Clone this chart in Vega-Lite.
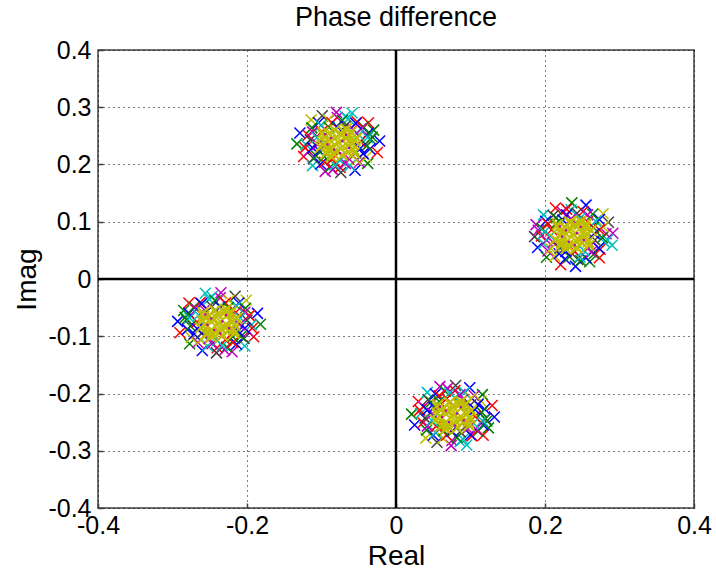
{
"$schema": "https://vega.github.io/schema/vega-lite/v6.json",
"width": 596, "height": 458,
"autosize": {"type": "none"},
"padding": {"left": 98, "top": 50, "right": 22, "bottom": 67},
"background": "white",
"config": {"view": {"stroke": "#404040", "strokeWidth": 1.5}, "font": "Liberation Sans"},
"title": {"text": "Phase difference", "fontSize": 27, "fontWeight": "normal", "color": "black", "offset": 6, "font": "Liberation Sans"},
"datasets": {
"ring": [
{"x":-0.022,"y":0.241,"c":"b"},{"x":-0.030,"y":0.260,"c":"g"},{"x":-0.037,"y":0.273,"c":"r"},{"x":-0.059,"y":0.290,"c":"c"},{"x":-0.080,"y":0.291,"c":"m"},{"x":-0.099,"y":0.285,"c":"k"},{"x":-0.114,"y":0.278,"c":"y"},{"x":-0.129,"y":0.255,"c":"b"},{"x":-0.133,"y":0.236,"c":"g"},{"x":-0.124,"y":0.214,"c":"r"},{"x":-0.112,"y":0.198,"c":"c"},{"x":-0.095,"y":0.188,"c":"m"},{"x":-0.074,"y":0.186,"c":"k"},{"x":-0.055,"y":0.190,"c":"b"},{"x":-0.038,"y":0.202,"c":"g"},{"x":-0.025,"y":0.221,"c":"r"},
{"x":-0.034,"y":0.244,"c":"k"},{"x":-0.037,"y":0.255,"c":"b"},{"x":-0.044,"y":0.266,"c":"g"},{"x":-0.052,"y":0.274,"c":"r"},{"x":-0.064,"y":0.280,"c":"c"},{"x":-0.079,"y":0.282,"c":"m"},{"x":-0.091,"y":0.278,"c":"y"},{"x":-0.104,"y":0.273,"c":"b"},{"x":-0.113,"y":0.264,"c":"g"},{"x":-0.118,"y":0.251,"c":"r"},{"x":-0.121,"y":0.235,"c":"c"},{"x":-0.117,"y":0.223,"c":"m"},{"x":-0.111,"y":0.211,"c":"k"},{"x":-0.101,"y":0.201,"c":"b"},{"x":-0.088,"y":0.196,"c":"g"},{"x":-0.075,"y":0.195,"c":"r"},{"x":-0.062,"y":0.198,"c":"c"},{"x":-0.049,"y":0.204,"c":"m"},{"x":-0.040,"y":0.213,"c":"y"},{"x":-0.035,"y":0.227,"c":"b"},{"x":-0.032,"y":0.248,"c":"g"},{"x":-0.122,"y":0.229,"c":"r"},{"x":-0.068,"y":0.284,"c":"c"},{"x":-0.085,"y":0.191,"c":"m"},
{"x":-0.038,"y":0.247,"c":"c"},{"x":-0.047,"y":0.262,"c":"m"},{"x":-0.054,"y":0.272,"c":"b"},{"x":-0.072,"y":0.277,"c":"g"},{"x":-0.086,"y":0.273,"c":"r"},{"x":-0.101,"y":0.268,"c":"c"},{"x":-0.112,"y":0.257,"c":"m"},{"x":-0.115,"y":0.243,"c":"k"},{"x":-0.112,"y":0.229,"c":"b"},{"x":-0.107,"y":0.215,"c":"g"},{"x":-0.096,"y":0.204,"c":"r"},{"x":-0.082,"y":0.199,"c":"c"},{"x":-0.068,"y":0.202,"c":"m"},{"x":-0.053,"y":0.208,"c":"y"},{"x":-0.044,"y":0.219,"c":"b"},{"x":-0.039,"y":0.233,"c":"g"},
{"x":-0.048,"y":0.240,"c":"r"},{"x":-0.050,"y":0.252,"c":"c"},{"x":-0.058,"y":0.261,"c":"m"},{"x":-0.068,"y":0.267,"c":"k"},{"x":-0.079,"y":0.266,"c":"b"},{"x":-0.090,"y":0.265,"c":"g"},{"x":-0.100,"y":0.257,"c":"r"},{"x":-0.106,"y":0.247,"c":"c"},{"x":-0.105,"y":0.235,"c":"m"},{"x":-0.103,"y":0.224,"c":"b"},{"x":-0.096,"y":0.214,"c":"g"},{"x":-0.086,"y":0.209,"c":"r"},{"x":-0.075,"y":0.207,"c":"c"},{"x":-0.064,"y":0.211,"c":"m"},{"x":-0.054,"y":0.220,"c":"k"},{"x":-0.048,"y":0.228,"c":"b"},

{"x":0.241,"y":0.022,"c":"b"},{"x":0.260,"y":0.030,"c":"g"},{"x":0.273,"y":0.037,"c":"r"},{"x":0.290,"y":0.059,"c":"c"},{"x":0.291,"y":0.080,"c":"m"},{"x":0.285,"y":0.099,"c":"k"},{"x":0.278,"y":0.114,"c":"y"},{"x":0.255,"y":0.129,"c":"b"},{"x":0.236,"y":0.133,"c":"g"},{"x":0.214,"y":0.124,"c":"r"},{"x":0.198,"y":0.112,"c":"c"},{"x":0.188,"y":0.095,"c":"m"},{"x":0.186,"y":0.074,"c":"k"},{"x":0.190,"y":0.055,"c":"b"},{"x":0.202,"y":0.038,"c":"g"},{"x":0.221,"y":0.025,"c":"r"},
{"x":0.244,"y":0.034,"c":"k"},{"x":0.255,"y":0.037,"c":"b"},{"x":0.266,"y":0.044,"c":"g"},{"x":0.274,"y":0.052,"c":"r"},{"x":0.280,"y":0.064,"c":"c"},{"x":0.282,"y":0.079,"c":"m"},{"x":0.278,"y":0.091,"c":"y"},{"x":0.273,"y":0.104,"c":"b"},{"x":0.264,"y":0.113,"c":"g"},{"x":0.251,"y":0.118,"c":"r"},{"x":0.235,"y":0.121,"c":"c"},{"x":0.223,"y":0.117,"c":"m"},{"x":0.211,"y":0.111,"c":"k"},{"x":0.201,"y":0.101,"c":"b"},{"x":0.196,"y":0.088,"c":"g"},{"x":0.195,"y":0.075,"c":"r"},{"x":0.198,"y":0.062,"c":"c"},{"x":0.204,"y":0.049,"c":"m"},{"x":0.213,"y":0.040,"c":"y"},{"x":0.227,"y":0.035,"c":"b"},{"x":0.248,"y":0.032,"c":"g"},{"x":0.229,"y":0.122,"c":"r"},{"x":0.284,"y":0.068,"c":"c"},{"x":0.191,"y":0.085,"c":"m"},
{"x":0.247,"y":0.038,"c":"c"},{"x":0.262,"y":0.047,"c":"m"},{"x":0.272,"y":0.054,"c":"b"},{"x":0.277,"y":0.072,"c":"g"},{"x":0.273,"y":0.086,"c":"r"},{"x":0.268,"y":0.101,"c":"c"},{"x":0.257,"y":0.112,"c":"m"},{"x":0.243,"y":0.115,"c":"k"},{"x":0.229,"y":0.112,"c":"b"},{"x":0.215,"y":0.107,"c":"g"},{"x":0.204,"y":0.096,"c":"r"},{"x":0.199,"y":0.082,"c":"c"},{"x":0.202,"y":0.068,"c":"m"},{"x":0.208,"y":0.053,"c":"y"},{"x":0.219,"y":0.044,"c":"b"},{"x":0.233,"y":0.039,"c":"g"},
{"x":0.240,"y":0.048,"c":"r"},{"x":0.252,"y":0.050,"c":"c"},{"x":0.261,"y":0.058,"c":"m"},{"x":0.267,"y":0.068,"c":"k"},{"x":0.266,"y":0.079,"c":"b"},{"x":0.265,"y":0.090,"c":"g"},{"x":0.257,"y":0.100,"c":"r"},{"x":0.247,"y":0.106,"c":"c"},{"x":0.235,"y":0.105,"c":"m"},{"x":0.224,"y":0.103,"c":"b"},{"x":0.214,"y":0.096,"c":"g"},{"x":0.209,"y":0.086,"c":"r"},{"x":0.207,"y":0.075,"c":"c"},{"x":0.211,"y":0.064,"c":"m"},{"x":0.220,"y":0.054,"c":"k"},{"x":0.228,"y":0.048,"c":"b"},

{"x":-0.293,"y":-0.074,"c":"b"},{"x":-0.285,"y":-0.055,"c":"g"},{"x":-0.278,"y":-0.042,"c":"r"},{"x":-0.256,"y":-0.025,"c":"c"},{"x":-0.235,"y":-0.024,"c":"m"},{"x":-0.216,"y":-0.030,"c":"k"},{"x":-0.201,"y":-0.037,"c":"y"},{"x":-0.186,"y":-0.060,"c":"b"},{"x":-0.182,"y":-0.079,"c":"g"},{"x":-0.191,"y":-0.101,"c":"r"},{"x":-0.203,"y":-0.117,"c":"c"},{"x":-0.220,"y":-0.127,"c":"m"},{"x":-0.241,"y":-0.129,"c":"k"},{"x":-0.260,"y":-0.125,"c":"b"},{"x":-0.277,"y":-0.113,"c":"g"},{"x":-0.290,"y":-0.094,"c":"r"},
{"x":-0.281,"y":-0.071,"c":"k"},{"x":-0.278,"y":-0.060,"c":"b"},{"x":-0.271,"y":-0.049,"c":"g"},{"x":-0.263,"y":-0.041,"c":"r"},{"x":-0.251,"y":-0.035,"c":"c"},{"x":-0.236,"y":-0.033,"c":"m"},{"x":-0.224,"y":-0.037,"c":"y"},{"x":-0.211,"y":-0.042,"c":"b"},{"x":-0.202,"y":-0.051,"c":"g"},{"x":-0.197,"y":-0.064,"c":"r"},{"x":-0.194,"y":-0.080,"c":"c"},{"x":-0.198,"y":-0.092,"c":"m"},{"x":-0.204,"y":-0.104,"c":"k"},{"x":-0.214,"y":-0.114,"c":"b"},{"x":-0.227,"y":-0.119,"c":"g"},{"x":-0.240,"y":-0.120,"c":"r"},{"x":-0.253,"y":-0.117,"c":"c"},{"x":-0.266,"y":-0.111,"c":"m"},{"x":-0.275,"y":-0.102,"c":"y"},{"x":-0.280,"y":-0.088,"c":"b"},{"x":-0.283,"y":-0.067,"c":"g"},{"x":-0.193,"y":-0.086,"c":"r"},{"x":-0.247,"y":-0.031,"c":"c"},{"x":-0.230,"y":-0.124,"c":"m"},
{"x":-0.277,"y":-0.068,"c":"c"},{"x":-0.268,"y":-0.053,"c":"m"},{"x":-0.261,"y":-0.043,"c":"b"},{"x":-0.243,"y":-0.038,"c":"g"},{"x":-0.229,"y":-0.042,"c":"r"},{"x":-0.214,"y":-0.047,"c":"c"},{"x":-0.203,"y":-0.058,"c":"m"},{"x":-0.200,"y":-0.072,"c":"k"},{"x":-0.203,"y":-0.086,"c":"b"},{"x":-0.208,"y":-0.100,"c":"g"},{"x":-0.219,"y":-0.111,"c":"r"},{"x":-0.233,"y":-0.116,"c":"c"},{"x":-0.247,"y":-0.113,"c":"m"},{"x":-0.262,"y":-0.107,"c":"y"},{"x":-0.271,"y":-0.096,"c":"b"},{"x":-0.276,"y":-0.082,"c":"g"},
{"x":-0.267,"y":-0.075,"c":"r"},{"x":-0.265,"y":-0.063,"c":"c"},{"x":-0.257,"y":-0.054,"c":"m"},{"x":-0.247,"y":-0.048,"c":"k"},{"x":-0.236,"y":-0.049,"c":"b"},{"x":-0.225,"y":-0.050,"c":"g"},{"x":-0.215,"y":-0.058,"c":"r"},{"x":-0.209,"y":-0.068,"c":"c"},{"x":-0.210,"y":-0.080,"c":"m"},{"x":-0.212,"y":-0.091,"c":"b"},{"x":-0.219,"y":-0.101,"c":"g"},{"x":-0.229,"y":-0.106,"c":"r"},{"x":-0.240,"y":-0.108,"c":"c"},{"x":-0.251,"y":-0.104,"c":"m"},{"x":-0.261,"y":-0.095,"c":"k"},{"x":-0.267,"y":-0.087,"c":"b"},

{"x":0.132,"y":-0.241,"c":"b"},{"x":0.124,"y":-0.260,"c":"g"},{"x":0.117,"y":-0.273,"c":"r"},{"x":0.095,"y":-0.290,"c":"c"},{"x":0.074,"y":-0.291,"c":"m"},{"x":0.055,"y":-0.285,"c":"k"},{"x":0.040,"y":-0.278,"c":"y"},{"x":0.025,"y":-0.255,"c":"b"},{"x":0.021,"y":-0.236,"c":"g"},{"x":0.030,"y":-0.214,"c":"r"},{"x":0.042,"y":-0.198,"c":"c"},{"x":0.059,"y":-0.188,"c":"m"},{"x":0.080,"y":-0.186,"c":"k"},{"x":0.099,"y":-0.190,"c":"b"},{"x":0.116,"y":-0.202,"c":"g"},{"x":0.129,"y":-0.221,"c":"r"},
{"x":0.120,"y":-0.244,"c":"k"},{"x":0.117,"y":-0.255,"c":"b"},{"x":0.110,"y":-0.266,"c":"g"},{"x":0.102,"y":-0.274,"c":"r"},{"x":0.090,"y":-0.280,"c":"c"},{"x":0.075,"y":-0.282,"c":"m"},{"x":0.063,"y":-0.278,"c":"y"},{"x":0.050,"y":-0.273,"c":"b"},{"x":0.041,"y":-0.264,"c":"g"},{"x":0.036,"y":-0.251,"c":"r"},{"x":0.033,"y":-0.235,"c":"c"},{"x":0.037,"y":-0.223,"c":"m"},{"x":0.043,"y":-0.211,"c":"k"},{"x":0.053,"y":-0.201,"c":"b"},{"x":0.066,"y":-0.196,"c":"g"},{"x":0.079,"y":-0.195,"c":"r"},{"x":0.092,"y":-0.198,"c":"c"},{"x":0.105,"y":-0.204,"c":"m"},{"x":0.114,"y":-0.213,"c":"y"},{"x":0.119,"y":-0.227,"c":"b"},{"x":0.122,"y":-0.248,"c":"g"},{"x":0.032,"y":-0.229,"c":"r"},{"x":0.086,"y":-0.284,"c":"c"},{"x":0.069,"y":-0.191,"c":"m"},
{"x":0.116,"y":-0.247,"c":"c"},{"x":0.107,"y":-0.262,"c":"m"},{"x":0.100,"y":-0.272,"c":"b"},{"x":0.082,"y":-0.277,"c":"g"},{"x":0.068,"y":-0.273,"c":"r"},{"x":0.053,"y":-0.268,"c":"c"},{"x":0.042,"y":-0.257,"c":"m"},{"x":0.039,"y":-0.243,"c":"k"},{"x":0.042,"y":-0.229,"c":"b"},{"x":0.047,"y":-0.215,"c":"g"},{"x":0.058,"y":-0.204,"c":"r"},{"x":0.072,"y":-0.199,"c":"c"},{"x":0.086,"y":-0.202,"c":"m"},{"x":0.101,"y":-0.208,"c":"y"},{"x":0.110,"y":-0.219,"c":"b"},{"x":0.115,"y":-0.233,"c":"g"},
{"x":0.106,"y":-0.240,"c":"r"},{"x":0.104,"y":-0.252,"c":"c"},{"x":0.096,"y":-0.261,"c":"m"},{"x":0.086,"y":-0.267,"c":"k"},{"x":0.075,"y":-0.266,"c":"b"},{"x":0.064,"y":-0.265,"c":"g"},{"x":0.054,"y":-0.257,"c":"r"},{"x":0.048,"y":-0.247,"c":"c"},{"x":0.049,"y":-0.235,"c":"m"},{"x":0.051,"y":-0.224,"c":"b"},{"x":0.058,"y":-0.214,"c":"g"},{"x":0.068,"y":-0.209,"c":"r"},{"x":0.079,"y":-0.207,"c":"c"},{"x":0.090,"y":-0.211,"c":"m"},{"x":0.100,"y":-0.220,"c":"k"},{"x":0.106,"y":-0.228,"c":"b"}
],
"core": [
{"x":-0.077,"y":0.238,"c":"y"},{"x":-0.062,"y":0.243,"c":"y"},{"x":-0.092,"y":0.233,"c":"y"},{"x":-0.069,"y":0.256,"c":"y"},{"x":-0.085,"y":0.220,"c":"y"},{"x":-0.057,"y":0.226,"c":"y"},{"x":-0.097,"y":0.250,"c":"y"},{"x":-0.053,"y":0.246,"c":"y"},{"x":-0.101,"y":0.230,"c":"y"},{"x":-0.072,"y":0.216,"c":"y"},{"x":-0.082,"y":0.260,"c":"y"},{"x":-0.065,"y":0.233,"c":"y"},{"x":-0.089,"y":0.243,"c":"y"},{"x":-0.060,"y":0.257,"c":"y"},{"x":-0.094,"y":0.219,"c":"y"},{"x":-0.080,"y":0.248,"c":"y"},{"x":-0.074,"y":0.228,"c":"y"},{"x":-0.067,"y":0.262,"c":"y"},{"x":-0.087,"y":0.214,"c":"y"},{"x":-0.056,"y":0.220,"c":"y"},{"x":-0.098,"y":0.256,"c":"y"},
{"x":-0.068,"y":0.246,"c":"y"},{"x":-0.086,"y":0.230,"c":"y"},{"x":-0.059,"y":0.236,"c":"y"},{"x":-0.095,"y":0.240,"c":"y"},{"x":-0.075,"y":0.254,"c":"y"},{"x":-0.079,"y":0.222,"c":"y"},{"x":-0.063,"y":0.250,"c":"y"},{"x":-0.091,"y":0.226,"c":"y"},{"x":-0.064,"y":0.222,"c":"y"},{"x":-0.090,"y":0.254,"c":"y"},{"x":-0.055,"y":0.242,"c":"y"},{"x":-0.099,"y":0.234,"c":"y"},
{"x":0.238,"y":0.077,"c":"y"},{"x":0.253,"y":0.082,"c":"y"},{"x":0.223,"y":0.072,"c":"y"},{"x":0.246,"y":0.095,"c":"y"},{"x":0.230,"y":0.059,"c":"y"},{"x":0.258,"y":0.065,"c":"y"},{"x":0.218,"y":0.089,"c":"y"},{"x":0.262,"y":0.085,"c":"y"},{"x":0.214,"y":0.069,"c":"y"},{"x":0.243,"y":0.055,"c":"y"},{"x":0.233,"y":0.099,"c":"y"},{"x":0.250,"y":0.072,"c":"y"},{"x":0.226,"y":0.082,"c":"y"},{"x":0.255,"y":0.096,"c":"y"},{"x":0.221,"y":0.058,"c":"y"},{"x":0.235,"y":0.087,"c":"y"},{"x":0.241,"y":0.067,"c":"y"},{"x":0.248,"y":0.101,"c":"y"},{"x":0.228,"y":0.053,"c":"y"},{"x":0.259,"y":0.059,"c":"y"},{"x":0.217,"y":0.095,"c":"y"},
{"x":0.246,"y":0.068,"c":"y"},{"x":0.230,"y":0.086,"c":"y"},{"x":0.236,"y":0.059,"c":"y"},{"x":0.240,"y":0.095,"c":"y"},{"x":0.254,"y":0.075,"c":"y"},{"x":0.222,"y":0.079,"c":"y"},{"x":0.250,"y":0.063,"c":"y"},{"x":0.226,"y":0.091,"c":"y"},{"x":0.222,"y":0.064,"c":"y"},{"x":0.254,"y":0.090,"c":"y"},{"x":0.242,"y":0.055,"c":"y"},{"x":0.234,"y":0.099,"c":"y"},
{"x":-0.238,"y":-0.077,"c":"y"},{"x":-0.223,"y":-0.072,"c":"y"},{"x":-0.253,"y":-0.082,"c":"y"},{"x":-0.230,"y":-0.059,"c":"y"},{"x":-0.246,"y":-0.095,"c":"y"},{"x":-0.218,"y":-0.089,"c":"y"},{"x":-0.258,"y":-0.065,"c":"y"},{"x":-0.214,"y":-0.069,"c":"y"},{"x":-0.262,"y":-0.085,"c":"y"},{"x":-0.233,"y":-0.099,"c":"y"},{"x":-0.243,"y":-0.055,"c":"y"},{"x":-0.226,"y":-0.082,"c":"y"},{"x":-0.250,"y":-0.072,"c":"y"},{"x":-0.221,"y":-0.058,"c":"y"},{"x":-0.255,"y":-0.096,"c":"y"},{"x":-0.241,"y":-0.067,"c":"y"},{"x":-0.235,"y":-0.087,"c":"y"},{"x":-0.228,"y":-0.053,"c":"y"},{"x":-0.248,"y":-0.101,"c":"y"},{"x":-0.217,"y":-0.095,"c":"y"},{"x":-0.259,"y":-0.059,"c":"y"},
{"x":-0.247,"y":-0.069,"c":"y"},{"x":-0.229,"y":-0.085,"c":"y"},{"x":-0.256,"y":-0.079,"c":"y"},{"x":-0.220,"y":-0.075,"c":"y"},{"x":-0.240,"y":-0.061,"c":"y"},{"x":-0.236,"y":-0.093,"c":"y"},{"x":-0.252,"y":-0.065,"c":"y"},{"x":-0.224,"y":-0.089,"c":"y"},{"x":-0.251,"y":-0.093,"c":"y"},{"x":-0.225,"y":-0.061,"c":"y"},{"x":-0.260,"y":-0.073,"c":"y"},{"x":-0.216,"y":-0.081,"c":"y"},
{"x":0.077,"y":-0.238,"c":"y"},{"x":0.092,"y":-0.233,"c":"y"},{"x":0.062,"y":-0.243,"c":"y"},{"x":0.085,"y":-0.220,"c":"y"},{"x":0.069,"y":-0.256,"c":"y"},{"x":0.097,"y":-0.250,"c":"y"},{"x":0.057,"y":-0.226,"c":"y"},{"x":0.101,"y":-0.230,"c":"y"},{"x":0.053,"y":-0.246,"c":"y"},{"x":0.082,"y":-0.260,"c":"y"},{"x":0.072,"y":-0.216,"c":"y"},{"x":0.089,"y":-0.243,"c":"y"},{"x":0.065,"y":-0.233,"c":"y"},{"x":0.094,"y":-0.219,"c":"y"},{"x":0.060,"y":-0.257,"c":"y"},{"x":0.074,"y":-0.228,"c":"y"},{"x":0.080,"y":-0.248,"c":"y"},{"x":0.087,"y":-0.214,"c":"y"},{"x":0.067,"y":-0.262,"c":"y"},{"x":0.098,"y":-0.256,"c":"y"},{"x":0.056,"y":-0.220,"c":"y"},
{"x":0.086,"y":-0.246,"c":"y"},{"x":0.068,"y":-0.230,"c":"y"},{"x":0.095,"y":-0.236,"c":"y"},{"x":0.059,"y":-0.240,"c":"y"},{"x":0.079,"y":-0.254,"c":"y"},{"x":0.075,"y":-0.222,"c":"y"},{"x":0.091,"y":-0.250,"c":"y"},{"x":0.063,"y":-0.226,"c":"y"},{"x":0.090,"y":-0.222,"c":"y"},{"x":0.064,"y":-0.254,"c":"y"},{"x":0.099,"y":-0.242,"c":"y"},{"x":0.055,"y":-0.234,"c":"y"}
],
"dots": [
{"x":-0.072,"y":0.241,"c":"m"},{"x":-0.087,"y":0.246,"c":"m"},{"x":-0.063,"y":0.229,"c":"m"},{"x":-0.083,"y":0.226,"c":"m"},{"x":-0.067,"y":0.252,"c":"m"},{"x":-0.092,"y":0.235,"c":"m"},{"x":-0.075,"y":0.220,"c":"m"},{"x":-0.095,"y":0.253,"c":"m"},
{"x":0.243,"y":0.080,"c":"m"},{"x":0.228,"y":0.085,"c":"m"},{"x":0.252,"y":0.068,"c":"m"},{"x":0.232,"y":0.065,"c":"m"},{"x":0.248,"y":0.091,"c":"m"},{"x":0.223,"y":0.074,"c":"m"},{"x":0.240,"y":0.059,"c":"m"},{"x":0.220,"y":0.092,"c":"m"},
{"x":-0.233,"y":-0.074,"c":"m"},{"x":-0.248,"y":-0.069,"c":"m"},{"x":-0.224,"y":-0.086,"c":"m"},{"x":-0.244,"y":-0.089,"c":"m"},{"x":-0.228,"y":-0.063,"c":"m"},{"x":-0.253,"y":-0.080,"c":"m"},{"x":-0.236,"y":-0.095,"c":"m"},{"x":-0.256,"y":-0.062,"c":"m"},
{"x":0.082,"y":-0.235,"c":"m"},{"x":0.067,"y":-0.230,"c":"m"},{"x":0.091,"y":-0.247,"c":"m"},{"x":0.071,"y":-0.250,"c":"m"},{"x":0.087,"y":-0.224,"c":"m"},{"x":0.062,"y":-0.241,"c":"m"},{"x":0.079,"y":-0.256,"c":"m"},{"x":0.059,"y":-0.223,"c":"m"}
],
"zero": [{"v": 0}]
},
"layer": [
{
"data": {"name": "ring"},
"mark": {"type": "point", "shape": "M-1,-1L1,1M-1,1L1,-1", "filled": false, "size": 121, "strokeWidth": 1.5, "opacity": 1},
"encoding": {
"x": {"field": "x", "type": "quantitative", "scale": {"domain": [-0.4, 0.4], "nice": false, "zero": false},
"axis": {"values": [-0.4, -0.2, 0, 0.2, 0.4], "labelExpr": "'' + datum.value", "title": "Real", "titleFontSize": 28, "titleFontWeight": "normal", "titleColor": "black", "titlePadding": 4, "labelFontSize": 25, "labelColor": "black", "labelPadding": 10, "labelFlush": false, "grid": true, "gridDash": [1, 4], "gridColor": "black", "gridOpacity": 1, "domain": false, "tickSize": -5, "tickColor": "#404040", "tickWidth": 1.5}},
"y": {"field": "y", "type": "quantitative", "scale": {"domain": [-0.4, 0.4], "nice": false, "zero": false},
"axis": {"values": [-0.4, -0.3, -0.2, -0.1, 0, 0.1, 0.2, 0.3, 0.4], "labelExpr": "'' + datum.value", "title": "Imag", "titleFontSize": 28, "titleFontWeight": "normal", "titleColor": "black", "titlePadding": 6, "labelFontSize": 25, "labelColor": "black", "labelPadding": 12, "labelFlush": false, "grid": true, "gridDash": [1, 4], "gridColor": "black", "gridOpacity": 1, "domain": false, "tickSize": -5, "tickColor": "#404040", "tickWidth": 1.5}},
"color": {"field": "c", "type": "nominal", "legend": null, "scale": {"domain": ["b", "g", "r", "c", "m", "y", "k"], "range": ["#0000FF", "#008000", "#FF0000", "#00BFBF", "#BF00BF", "#BFBF00", "#404040"]}}
}
},
{
"data": {"name": "core"},
"mark": {"type": "point", "shape": "M-1,-1L1,1M-1,1L1,-1", "filled": false, "size": 121, "strokeWidth": 2, "opacity": 1},
"encoding": {
"x": {"field": "x", "type": "quantitative", "scale": {"domain": [-0.4, 0.4], "nice": false, "zero": false}},
"y": {"field": "y", "type": "quantitative", "scale": {"domain": [-0.4, 0.4], "nice": false, "zero": false}},
"color": {"field": "c", "type": "nominal", "legend": null}
}
},
{
"data": {"name": "dots"},
"mark": {"type": "point", "shape": "square", "filled": true, "size": 5, "opacity": 1},
"encoding": {
"x": {"field": "x", "type": "quantitative", "scale": {"domain": [-0.4, 0.4], "nice": false, "zero": false}},
"y": {"field": "y", "type": "quantitative", "scale": {"domain": [-0.4, 0.4], "nice": false, "zero": false}},
"color": {"field": "c", "type": "nominal", "legend": null}
}
},
{
"data": {"name": "zero"},
"mark": {"type": "rule", "color": "black", "strokeWidth": 2.5},
"encoding": {"x": {"field": "v", "type": "quantitative"}}
},
{
"data": {"name": "zero"},
"mark": {"type": "rule", "color": "black", "strokeWidth": 2.5},
"encoding": {"y": {"field": "v", "type": "quantitative"}}
}
]
}
